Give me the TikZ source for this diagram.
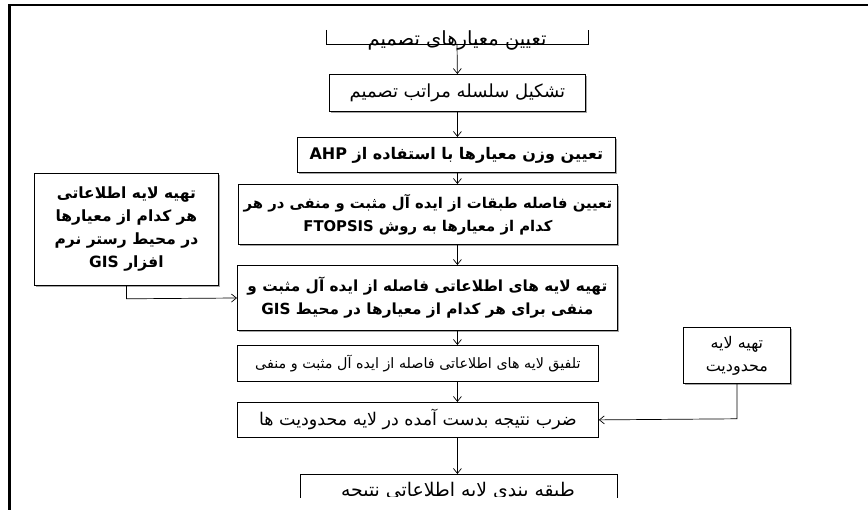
\documentclass[tikz,border=0pt]{standalone}
\usepackage{fontspec}
\usetikzlibrary{arrows.meta,shadows}
\newfontfamily\arabicfont[Script=Arabic]{DejaVu Sans}
\TeXXeTstate=1
\newcommand{\fa}[1]{\beginR #1\endR}
\newcommand{\fs}[2]{\fontsize{#1}{#2}\selectfont}
\tikzset{
  boxa/.style={draw=black, line width=0.8pt, fill=white, inner sep=0pt, anchor=north west, align=center},
  boxsh/.style={boxa, drop shadow={shadow xshift=2pt, shadow yshift=-2pt, fill=gray!70, opacity=1}},
  conn/.style={draw=black, line width=0.7pt, -{Straight Barb[length=5pt,width=8pt]}},
  plain/.style={draw=black, line width=0.7pt},
  lbl/.style={inner sep=0pt, align=center},
}
\begin{document}
\begin{tikzpicture}[x=1pt,y=-1pt]
\useasboundingbox (0,0) rectangle (868,510);
% frame
\draw[line width=2.5pt] (868,5) -- (9.5,5) -- (9.5,510);
% box 1 (top, cut)
\begin{scope}
\clip (0,31) rectangle (868,510);
\node[lbl, font=\arabicfont\fs{19.5}{23}] (t1) at (457,40) {\fa{تعیین معیارهای تصمیم}};
\end{scope}
\coordinate (b1l) at (326,30);
\coordinate (b1r) at (588,30);
\coordinate (b1b) at (457,44);
\draw[plain] (b1l) -- (326,44) -- (588,44) -- (b1r);
% box 2
\node[boxsh, minimum width=256pt, minimum height=37pt, font=\arabicfont\fs{18}{22}] (b2) at (329,74) {\fa{تشکیل سلسله مراتب تصمیم}};
% box 3
\node[boxsh, minimum width=318pt, minimum height=35pt, font=\arabicfont\bfseries\fs{16}{20}] (b3) at (297,137) {\fa{تعیین وزن معیارها با استفاده از \beginL AHP\endL}};
% box 4
\node[boxsh, minimum width=379pt, minimum height=60pt, font=\arabicfont\bfseries\fs{14.8}{23}] (b4) at (238,184) {\fa{تعیین فاصله طبقات از ایده آل مثبت و منفی در هر}\\\fa{کدام از معیارها به روش \beginL FTOPSIS\endL}};
% box 5
\node[boxsh, minimum width=380pt, minimum height=65pt, font=\arabicfont\bfseries\fs{15.3}{23}] (b5) at (237,265) {\fa{تهیه لایه های اطلاعاتی فاصله از ایده آل مثبت و}\\\fa{منفی برای هر کدام از معیارها در محیط \beginL GIS\endL}};
% box 6
\node[boxa, minimum width=361pt, minimum height=36pt, font=\arabicfont\fs{14.3}{18}] (b6) at (237,345) {\fa{تلفیق لایه های اطلاعاتی فاصله از ایده آل مثبت و منفی}};
% box 7
\node[boxa, minimum width=361pt, minimum height=35pt, font=\arabicfont\fs{17.5}{21}] (b7) at (237,402) {\fa{ضرب نتیجه بدست آمده در لایه محدودیت ها}};
% left box
\node[boxsh, minimum width=184pt, minimum height=112pt, font=\arabicfont\bfseries\fs{15.5}{23}] (lb) at (34,173) {\fa{تهیه لایه اطلاعاتی}\\\fa{هر کدام از معیارها}\\\fa{در محیط رستر نرم}\\\fa{افزار \beginL GIS\endL}};
% right box
\node[boxsh, minimum width=107pt, minimum height=56pt, font=\arabicfont\fs{16}{23}] (rb) at (683,327) {\fa{تهیه لایه}\\\fa{محدودیت}};
% box 8 (bottom, cut)
\begin{scope}
\clip (0,0) rectangle (868,497);
\node[lbl, font=\arabicfont\fs{18.8}{22}] (t8) at (458,491) {\fa{طبقه بندی لایه اطلاعاتی نتیجه}};
\end{scope}
\coordinate (b8t) at (458,474);
\draw[plain] (300,498) -- (300,474) -- (617,474) -- (617,498);
% connectors
\draw[conn] (b1b) -- (b2.north);
\draw[conn] (b2.south) -- (b2.south |- b3.north);
\draw[conn] (b3.south -| b2.south) -- (b2.south |- b4.north);
\draw[conn] (b4.south -| b2.south) -- (b2.south |- b5.north);
\draw[conn] (b5.south -| b2.south) -- (b2.south |- b6.north);
\draw[conn] (b6.south -| b2.south) -- (b2.south |- b7.north);
\draw[conn] (b7.south -| b2.south) -- (b8t -| b2.south);
\draw[conn] (lb.south) -- ++(0,13) -- (b5.west |- 0,298);
\draw[conn] (rb.south) -- ++(0,35) -- (b7.east);
\end{tikzpicture}
\end{document}
